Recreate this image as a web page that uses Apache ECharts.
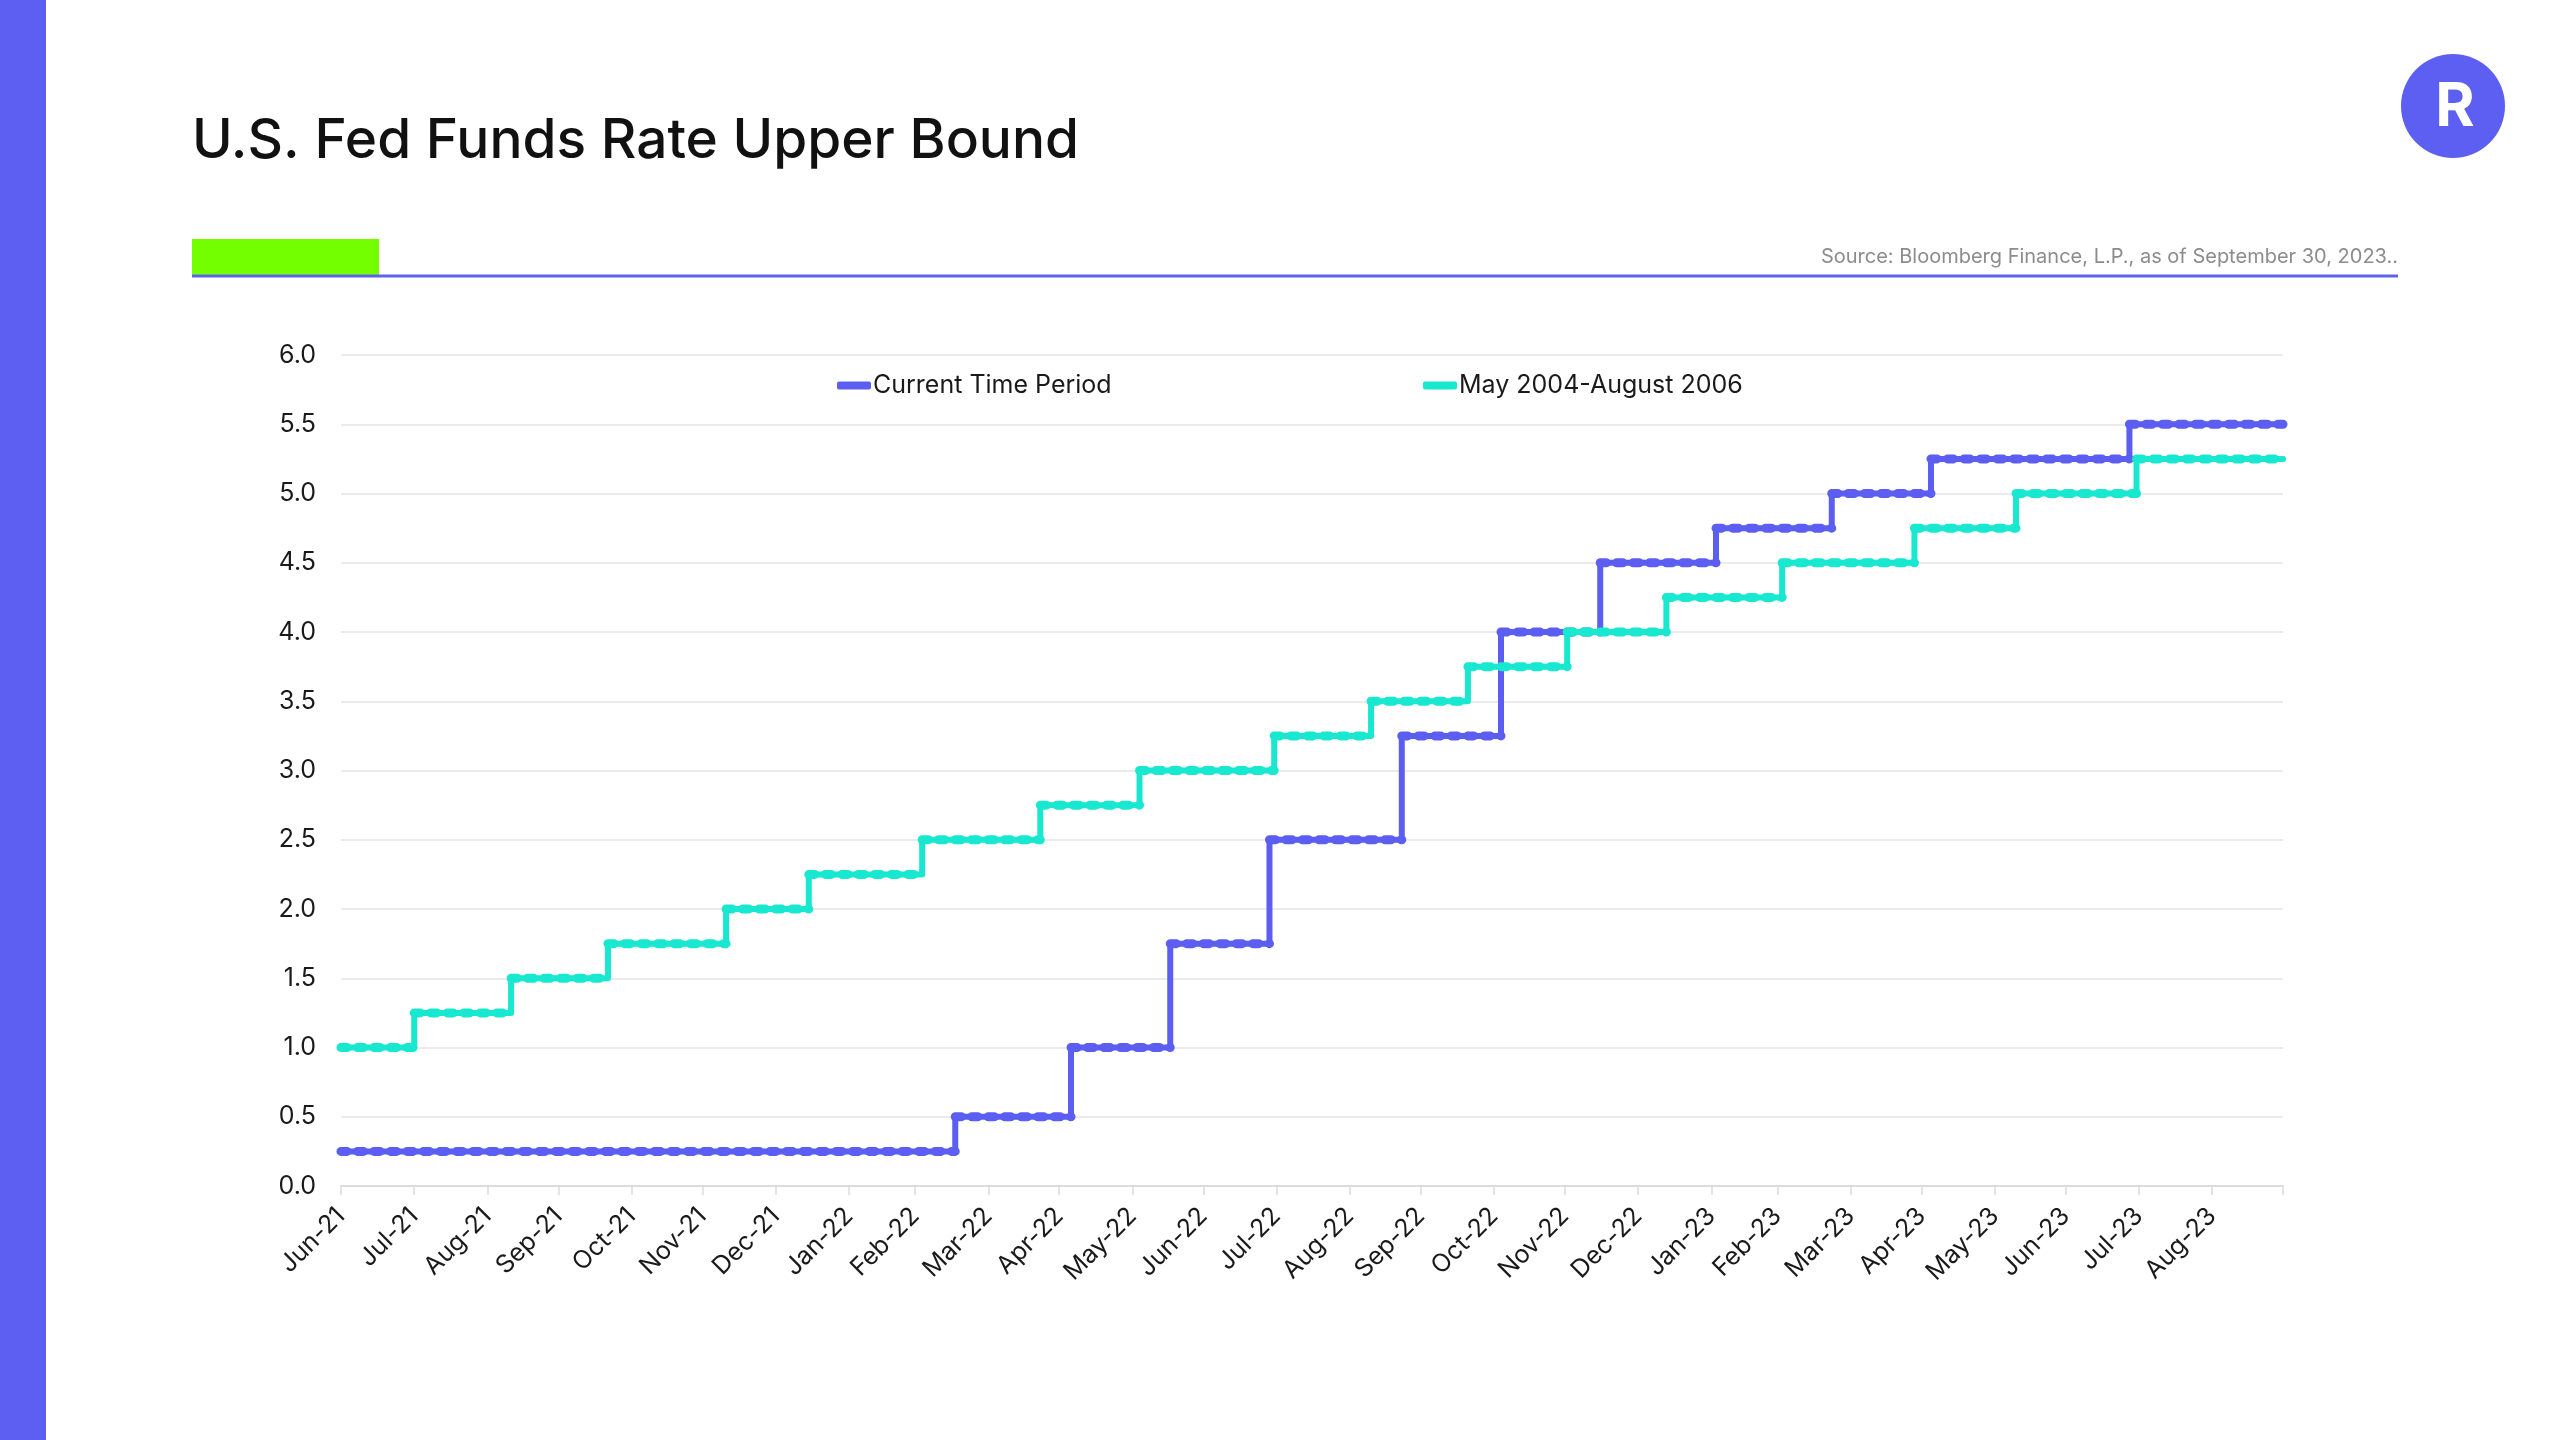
<!DOCTYPE html>
<html>
<head>
<meta charset="utf-8">
<script src="https://cdn.jsdelivr.net/npm/echarts@6/dist/echarts.min.js"></script>
<style>
  html, body { margin: 0; padding: 0; background: #ffffff; }
  #chart { width: 2560px; height: 1440px; }
</style>
</head>
<body>
<div id="chart"></div>
<script>
// ---- Data ----
const titleText = 'U.S. Fed Funds Rate Upper Bound';
const sourceText = 'Source: Bloomberg Finance, L.P., as of September 30, 2023..';
const seriesNames = ['Current Time Period', 'May 2004-August 2006'];

// Current cycle: dates where the upper bound changed, and the new level
const currentDates = ['2021-06-30','2022-03-17','2022-05-05','2022-06-16','2022-07-28','2022-09-22','2022-11-03','2022-12-15','2023-02-02','2023-03-23','2023-05-04','2023-07-27','2023-09-30'];
const currentRates = [0.25, 0.5, 1.0, 1.75, 2.5, 3.25, 4.0, 4.5, 4.75, 5.0, 5.25, 5.5, 5.5];

// 2004-2006 cycle, aligned to the current timeline
const histDates = ['2021-06-30','2021-07-31','2021-09-10','2021-10-21','2021-12-10','2022-01-14','2022-03-03','2022-04-22','2022-06-03','2022-07-30','2022-09-09','2022-10-20','2022-12-01','2023-01-12','2023-03-02','2023-04-27','2023-06-09','2023-07-30','2023-09-30'];
const histRates = [1.0, 1.25, 1.5, 1.75, 2.0, 2.25, 2.5, 2.75, 3.0, 3.25, 3.5, 3.75, 4.0, 4.25, 4.5, 4.75, 5.0, 5.25, 5.25];

// x-axis ticks (month ends) and their labels
const tickDates = ['2021-06-30','2021-07-31','2021-08-31','2021-09-30','2021-10-31','2021-11-30','2021-12-31','2022-01-31','2022-02-28','2022-03-31','2022-04-30','2022-05-31','2022-06-30','2022-07-31','2022-08-31','2022-09-30','2022-10-31','2022-11-30','2022-12-31','2023-01-31','2023-02-28','2023-03-31','2023-04-30','2023-05-31','2023-06-30','2023-07-31','2023-08-31','2023-09-30'];
const tickLabels = ['Jun-21','Jul-21','Aug-21','Sep-21','Oct-21','Nov-21','Dec-21','Jan-22','Feb-22','Mar-22','Apr-22','May-22','Jun-22','Jul-22','Aug-22','Sep-22','Oct-22','Nov-22','Dec-22','Jan-23','Feb-23','Mar-23','Apr-23','May-23','Jun-23','Jul-23','Aug-23',''];

// ---- Build ----
const ts = s => { const p = s.split('-').map(Number); return Date.UTC(p[0], p[1] - 1, p[2]); };
const tickTs = tickDates.map(ts);
const currentData = currentDates.map((d, i) => [ts(d), currentRates[i]]);
const histData = histDates.map((d, i) => [ts(d), histRates[i]]);
// flat segments [start, end, level] for the dotted overlay
const flats = data => data.slice(0, -1).map((p, i) => [p[0], data[i + 1][0], p[1]]);

const FONT = 'Inter, "Noto Sans", sans-serif';
const BLUE = '#5b5ef0';
const TEAL = '#18e8d0';

const chart = echarts.init(document.getElementById('chart'), null, { renderer: 'canvas' });

const dotted = (color, z) => ({
  type: 'custom',
  silent: true,
  z: z,
  encode: { x: [0, 1], y: 2 },
  data: null,
  renderItem: function (params, api) {
    const v = api.value(2);
    const a = api.coord([api.value(0), v]);
    const b = api.coord([api.value(1), v]);
    return {
      type: 'line',
      shape: { x1: a[0], y1: a[1], x2: b[0], y2: b[1] },
      style: { stroke: color, lineWidth: 9, lineDash: [6, 10.5], lineCap: 'round', fill: null }
    };
  }
});

const s1dots = dotted(BLUE, 3); s1dots.data = flats(currentData);
const s2dots = dotted(TEAL, 5); s2dots.data = flats(histData);

chart.setOption({
  animation: false,
  backgroundColor: '#ffffff',
  textStyle: { fontFamily: FONT },
  grid: { left: 341, top: 355, width: 1942, height: 831, containLabel: false },
  legend: [
    {
      data: [seriesNames[0]], left: 837, top: 373, padding: 0,
      icon: 'roundRect', itemWidth: 34, itemHeight: 8,
      itemStyle: { borderWidth: 0 }, lineStyle: { width: 0 },
      textStyle: { fontFamily: FONT, fontSize: 25, color: '#1a1a1a', padding: [0, 0, 0, -3] }
    },
    {
      data: [seriesNames[1]], left: 1423, top: 373, padding: 0,
      icon: 'roundRect', itemWidth: 34, itemHeight: 8,
      itemStyle: { borderWidth: 0 }, lineStyle: { width: 0 },
      textStyle: { fontFamily: FONT, fontSize: 25, color: '#1a1a1a', padding: [0, 0, 0, -3] }
    }
  ],
  xAxis: {
    type: 'value',
    min: tickTs[0],
    max: tickTs[tickTs.length - 1],
    splitLine: { show: false },
    axisLine: { show: true, onZero: false, lineStyle: { color: '#dcdcdc', width: 2 } },
    axisTick: { show: true, length: 9, lineStyle: { color: '#dcdcdc', width: 1.5 }, customValues: tickTs },
    axisLabel: {
      customValues: tickTs,
      rotate: 45,
      margin: 26,
      fontSize: 25,
      fontFamily: FONT,
      color: '#1a1a1a',
      hideOverlap: false,
      showMinLabel: true,
      showMaxLabel: true,
      formatter: function (v) {
        const i = tickTs.indexOf(+v);
        return i >= 0 ? tickLabels[i] : '';
      }
    }
  },
  yAxis: {
    type: 'value',
    min: 0, max: 6, interval: 0.5,
    axisLine: { show: false },
    axisTick: { show: false },
    splitLine: { show: true, lineStyle: { color: '#ebebeb', width: 2 } },
    axisLabel: {
      margin: 25, fontSize: 25, fontFamily: FONT, color: '#1a1a1a',
      formatter: v => v.toFixed(1)
    }
  },
  series: [
    {
      name: seriesNames[0], type: 'line', step: 'end', showSymbol: false,
      data: currentData, itemStyle: { color: BLUE },
      lineStyle: { color: BLUE, width: 6, join: 'round', cap: 'round' }, z: 2
    },
    s1dots,
    {
      name: seriesNames[1], type: 'line', step: 'end', showSymbol: false,
      data: histData, itemStyle: { color: TEAL },
      lineStyle: { color: TEAL, width: 6, join: 'round', cap: 'round' }, z: 4
    },
    s2dots
  ],
  graphic: [
    { type: 'rect', left: 0, top: 0, shape: { width: 46, height: 1440 }, style: { fill: '#5c5ff2' }, silent: true },
    { type: 'text', x: 192, y: 141, style: { text: titleText, fontFamily: FONT, fontSize: 55, fontWeight: 500, fill: '#111111', verticalAlign: 'middle', align: 'left' } },
    { type: 'rect', shape: { x: 192, y: 239, width: 187, height: 36 }, style: { fill: '#73ff00' } },
    { type: 'line', shape: { x1: 192, y1: 276, x2: 2398, y2: 276 }, style: { stroke: '#5f62f0', lineWidth: 3 } },
    { type: 'text', x: 2398, y: 257, style: { text: sourceText, fontFamily: FONT, fontSize: 20, fill: '#8c8c8c', align: 'right', verticalAlign: 'middle' } },
    { type: 'circle', shape: { cx: 2453, cy: 106, r: 52 }, style: { fill: '#5c5ff2' } },
    { type: 'text', x: 2455, y: 108, style: { text: 'R', fontFamily: FONT, fontSize: 60, fontWeight: 700, fill: '#ffffff', align: 'center', verticalAlign: 'middle' } }
  ]
});
</script>
</body>
</html>
